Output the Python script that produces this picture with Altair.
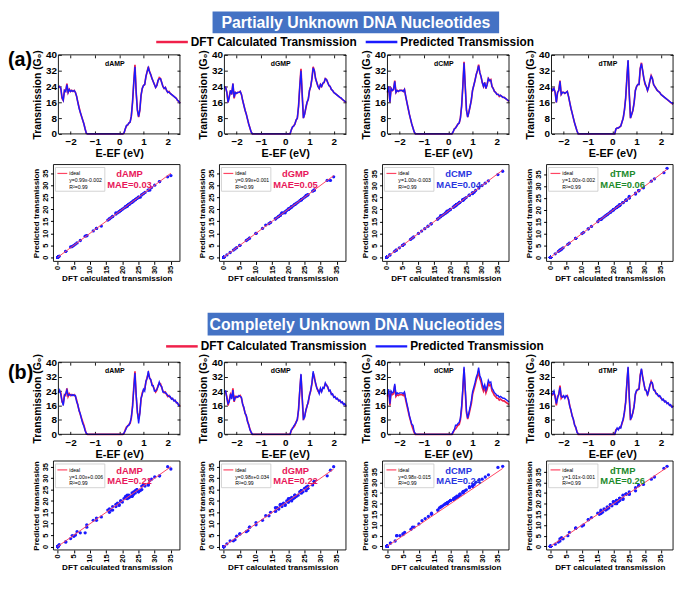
import altair as alt
import pandas as pd

# ---------------- data ----------------
E = [-2.5, -2.45, -2.4, -2.35, -2.3, -2.25, -2.2, -2.15, -2.1, -2.05,
     -2.0, -1.95, -1.9, -1.85, -1.8, -1.75, -1.7, -1.65, -1.6, -1.55,
     -1.5, -1.45, -1.4, -1.35, -1.3, -1.25, -1.2, -1.15, -1.1, -1.05,
     -1.0, -0.95, -0.9, -0.85, -0.8, -0.75, -0.7, -0.65, -0.6, -0.55,
     -0.5, -0.45, -0.4, -0.35, -0.3, -0.25, -0.2, -0.15, -0.1, -0.05,
     0.0, 0.05, 0.1, 0.15, 0.2, 0.25, 0.3, 0.35, 0.4, 0.45,
     0.5, 0.55, 0.6, 0.65, 0.7, 0.75, 0.8, 0.85, 0.9, 0.95,
     1.0, 1.05, 1.1, 1.15, 1.2, 1.25, 1.3, 1.35, 1.4, 1.45,
     1.5, 1.55, 1.6, 1.65, 1.7, 1.75, 1.8, 1.85, 1.9, 1.95,
     2.0, 2.05, 2.1, 2.15, 2.2, 2.25, 2.3, 2.35, 2.4, 2.45, 2.5]

# DFT calculated transmission (G0)
D_AMP = [23.5, 24.0, 23.0, 18.0, 17.0, 22.0, 21.5, 25.5, 21.0, 22.5,
         21.5, 22.0, 21.5, 22.0, 21.0, 19.0, 16.0, 13.5, 11.0, 9.0,
         7.0, 5.0, 2.5, 0.3, 0, 0, 0, 0, 0, 0,
         0, 0, 0, 0, 0, 0, 0, 0, 0, 0,
         0, 0, 0, 0, 0, 0, 0, 0, 0, 0,
         0, 0, 0, 0, 0.5, 2.5, 4.0, 4.5, 5.5, 6.0,
         9.0, 16.0, 26.0, 35.0, 21.0, 12.0, 8.5, 12.0, 19.5, 23.0,
         24.5, 25.0, 29.0, 31.5, 34.0, 31.5, 30.0, 28.0, 26.5, 25.0,
         23.5, 24.5, 27.0, 28.5, 28.0, 26.0, 24.0, 23.0, 23.5, 22.0,
         21.0, 21.5, 20.5, 20.0, 19.5, 19.0, 18.5, 18.0, 17.0, 16.5, 15.5]
D_GMP = [24.0, 23.5, 21.0, 16.0, 19.0, 22.0, 20.0, 25.5, 18.0, 21.0,
         20.5, 21.0, 21.0, 21.5, 20.0, 17.0, 14.5, 12.0, 10.0, 7.5,
         5.0, 3.0, 1.0, 0, 0, 0, 0, 0, 0, 0,
         0, 0, 0, 0, 0, 0, 0, 0, 0, 0,
         0, 0, 0, 0, 0, 0, 0, 0, 0, 0,
         0, 0, 0, 0, 0, 2.0, 3.5, 4.0, 5.0, 7.0,
         8.0, 14.0, 24.0, 33.0, 20.0, 8.0, 10.0, 13.0, 16.0, 17.5,
         22.0, 24.0, 28.0, 34.0, 32.0, 28.0, 26.0, 24.0, 23.0, 25.0,
         24.0, 25.5, 26.0, 28.0, 27.5, 26.0, 24.5, 24.0, 22.5, 22.0,
         21.0, 20.5, 20.0, 19.5, 19.0, 18.5, 18.0, 17.5, 17.0, 16.5, 16.0]
D_CMP = [21.0, 24.0, 16.0, 23.0, 22.0, 22.5, 27.0, 21.0, 22.0, 21.5,
         22.0, 22.0, 22.0, 21.5, 22.5, 19.0, 16.0, 13.0, 10.0, 7.5,
         5.0, 3.0, 1.0, 0, 0, 0, 0, 0, 0, 0,
         0, 0, 0, 0, 0, 0, 0, 0, 0, 0,
         0, 0, 0, 0, 0, 0, 0, 0, 0, 0,
         0, 0, 0, 0, 1.0, 2.5, 3.0, 4.0, 5.0, 5.5,
         8.0, 14.0, 24.0, 36.5, 24.0, 12.0, 8.5, 11.0, 14.0, 17.0,
         22.0, 24.5, 27.0, 30.0, 32.0, 35.0, 31.0, 29.0, 26.0, 24.0,
         26.0, 23.0, 25.0, 28.0, 27.0, 27.5, 24.0, 23.0, 21.5, 21.0,
         20.0, 20.0, 19.0, 19.5, 19.0, 18.5, 18.5, 18.0, 17.5, 17.0, 16.5]
D_TMP = [23.0, 22.0, 23.0, 21.0, 16.0, 21.0, 22.0, 27.0, 20.0, 21.0,
         21.0, 20.5, 21.0, 21.5, 19.0, 16.0, 13.0, 10.5, 8.0, 5.5,
         3.5, 1.5, 0, 0, 0, 0, 0, 0, 0, 0,
         0, 0, 0, 0, 0, 0, 0, 0, 0, 0,
         0, 0, 0, 0, 0, 0, 0, 0, 0, 0,
         0, 0, 0, 2.5, 3.0, 3.0, 3.5, 4.0, 6.0, 8.0,
         12.0, 18.0, 28.0, 37.0, 20.0, 8.0, 10.0, 12.0, 16.0, 22.0,
         24.0, 25.0, 25.0, 33.0, 36.0, 32.0, 28.0, 25.0, 24.0, 22.0,
         24.0, 27.0, 29.5, 28.0, 25.0, 24.0, 23.0, 22.0, 21.5, 21.0,
         20.0, 19.5, 19.0, 18.5, 18.0, 17.5, 17.0, 16.5, 16.0, 15.5, 15.0]

# predicted, partially unknown: the points where it departs from DFT
PA_AMP_DIFF = {3: 18.5, 7: 25.0, 17: 13.0, 56: 4.3, 63: 34.0, 66: 8.8, 74: 33.5, 83: 28.0, 91: 21.2}
PA_GMP_DIFF = {4: 18.5, 8: 18.5, 63: 32.0, 67: 13.4, 73: 33.5, 81: 25.8, 96: 18.3}
PA_CMP_DIFF = {6: 26.6, 63: 36.0, 69: 17.4, 75: 34.6, 85: 27.2, 92: 19.3}
PA_TMP_DIFF = {7: 26.6, 63: 37.4, 74: 35.6, 77: 25.6, 82: 29.2, 99: 15.8}

# predicted, completely unknown
PB_AMP = [23.0, 24.5, 22.0, 18.5, 16.0, 21.5, 22.5, 24.5, 21.5, 22.0,
          22.0, 21.5, 22.0, 21.5, 21.5, 18.0, 16.5, 13.0, 11.5, 8.5,
          6.0, 4.5, 2.0, 0.5, 0, 0, 0, 0, 0, 0,
          0, 0, 0, 0, 0, 0, 0, 0, 0, 0,
          0, 0, 0, 0, 0, 0, 0, 0, 0, 0,
          0, 0, 0, 0, 0.8, 2.0, 3.5, 4.8, 5.0, 6.5,
          9.5, 15.0, 25.0, 34.0, 22.0, 12.5, 6.0, 11.5, 20.0, 22.0,
          25.0, 24.0, 29.5, 31.0, 35.0, 31.0, 30.5, 27.0, 27.0, 24.0,
          24.0, 25.0, 26.5, 29.0, 27.0, 26.5, 23.5, 23.5, 23.0, 22.5,
          21.5, 21.0, 21.0, 19.5, 20.0, 18.5, 19.0, 17.5, 17.5, 16.0, 16.0]
PB_GMP = [23.5, 24.0, 20.0, 17.0, 18.0, 22.5, 19.5, 24.5, 18.5, 20.5,
          21.0, 20.5, 21.5, 21.0, 20.5, 16.5, 15.0, 11.5, 10.5, 7.0,
          5.5, 2.5, 1.2, 0, 0, 0, 0, 0, 0, 0,
          0, 0, 0, 0, 0, 0, 0, 0, 0, 0,
          0, 0, 0, 0, 0, 0, 0, 0, 0, 0,
          0, 0, 0, 0, 0, 2.5, 3.0, 4.5, 5.5, 6.5,
          8.5, 13.5, 24.5, 33.5, 21.0, 8.5, 9.5, 13.5, 15.5, 18.5,
          21.5, 24.5, 28.5, 35.0, 31.0, 28.5, 25.5, 24.5, 22.5, 25.5,
          23.5, 26.0, 25.5, 28.5, 27.0, 26.5, 24.0, 24.5, 22.0, 22.5,
          20.5, 21.0, 19.5, 20.0, 18.5, 19.0, 17.5, 18.0, 16.5, 17.0, 15.5]
PB_CMP = [22.0, 25.0, 17.0, 24.0, 23.0, 23.5, 28.0, 22.0, 23.0, 22.5,
          23.0, 23.0, 23.0, 22.5, 23.5, 20.0, 17.0, 14.0, 10.5, 8.0,
          5.5, 5.0, 1.5, 0.3, 0, 0, 0, 0, 0, 0,
          0, 0, 0, 0, 0, 0, 0, 0, 0, 0,
          0, 0, 0, 0, 0, 0, 0, 0, 0, 0,
          0, 0, 0, 0, 1.5, 2.5, 5.0, 5.0, 6.0, 6.5,
          9.0, 15.5, 25.5, 37.5, 25.5, 13.0, 9.0, 12.0, 15.0, 18.5,
          23.5, 26.0, 28.5, 31.5, 33.5, 37.0, 32.5, 31.0, 28.0, 25.5,
          27.5, 24.5, 26.5, 30.0, 28.5, 29.0, 25.5, 24.5, 23.0, 22.5,
          21.5, 21.5, 20.5, 21.0, 20.5, 20.0, 20.0, 19.5, 19.0, 18.5, 18.0]
PB_TMP = [22.0, 22.5, 24.0, 20.5, 17.0, 20.0, 22.5, 26.0, 21.0, 20.5,
          21.5, 20.0, 21.5, 21.0, 19.5, 15.5, 13.5, 10.0, 8.5, 5.0,
          4.0, 1.0, 0.3, 0, 0, 0, 0, 0, 0, 0,
          0, 0, 0, 0, 0, 0, 0, 0, 0, 0,
          0, 0, 0, 0, 0, 0, 0, 0, 0, 0,
          0, 0, 0, 2.0, 3.5, 2.5, 4.0, 3.5, 6.5, 8.5,
          12.5, 17.5, 28.5, 37.5, 21.0, 8.5, 9.5, 12.5, 15.5, 22.5,
          24.5, 24.5, 25.5, 32.5, 36.5, 31.5, 28.5, 24.5, 24.5, 21.5,
          24.5, 27.5, 29.0, 28.5, 24.5, 24.5, 22.5, 22.5, 21.0, 21.5,
          20.5, 19.0, 19.5, 18.0, 18.5, 17.0, 17.5, 16.0, 16.5, 15.0, 15.5]

NAMES = ["dAMP", "dGMP", "dCMP", "dTMP"]
NAME_COLORS = ["#e8185a", "#e8185a", "#2a35e0", "#1d8a2c"]
EQ_A = ["y=0.99x-0.002", "y=0.99x+0.001", "y=1.00x-0.003", "y=1.00x-0.002"]
EQ_B = ["y=1.00x+0.006", "y=0.98x+0.034", "y=0.98x-0.015", "y=1.01x-0.001"]
MAE_A = ["MAE=0.03", "MAE=0.05", "MAE=0.04", "MAE=0.06"]
MAE_B = ["MAE=0.21", "MAE=0.22", "MAE=0.24", "MAE=0.26"]
R2_TEXT = "R\u00b2=0.99"
IDEAL = "ideal"
HEADERS = ["Partially Unknown DNA Nucleotides", "Completely Unknown DNA Nucleotides"]
LEGEND_LABELS = ["DFT Calculated Transmission", "Predicted Transmission"]
TAGS = ["(a)", "(b)"]
E_TICKS = [-2, -1, 0, 1, 2]
T_TICKS = [0, 8, 16, 24, 32, 40]
S_TICKS = [0, 5, 10, 15, 20, 25, 30, 35]
# parity-plot axis limits
S_XLIM = [[[-1.3, 37.8], [-1.3, 37.8], [-1.3, 38.5], [-1.25, 38.9]],
          [[-1.3, 37.8], [-1.3, 37.8], [-1.5, 38.5], [-1.25, 38.9]]]
S_YLIM = [[[-1.7, 38.6], [-1.7, 38.6], [-1.7, 38.8], [-1.7, 39.0]],
          [[-1.5, 37.5], [-1.5, 37.5], [-1.7, 40.0], [-1.7, 40.0]]]


def with_diff(base, diff):
    out = list(base)
    for k, v in diff.items():
        out[k] = v
    return out


DFT = [D_AMP, D_GMP, D_CMP, D_TMP]
PRED_A = [with_diff(D_AMP, PA_AMP_DIFF), with_diff(D_GMP, PA_GMP_DIFF),
          with_diff(D_CMP, PA_CMP_DIFF), with_diff(D_TMP, PA_TMP_DIFF)]
PRED_B = [PB_AMP, PB_GMP, PB_CMP, PB_TMP]

# ---------------- layout / style ----------------
W, H = 677, 573
RED = "#f0204a"
BLUE = "#1a1aff"
IDEAL_RED = "#ff4563"
HEAD_BG = "#4472c4"
ARIAL = "Liberation Sans"

TRANS_X = [51, 219, 384, 550]
TRANS_W = 123
SCAT_X = [46, 214, 379, 545]
SCAT_W = 128
SECTIONS = [
    dict(box=(0, 22), box_x=(207, 497), leg_y=31, leg_x=(150, 362),
         trans=(44, 124), scat=(155, 253), tag_y=49),
    dict(box=(305, 328), box_x=(202, 502), leg_y=339, leg_x=(160, 372),
         trans=(355, 428), scat=(455, 545), tag_y=366),
]


def one(text):
    return pd.DataFrame({"t": [text]})


def txt(text, x, y, **kw):
    return alt.Chart(one(text)).mark_text(**kw).encode(
        text="t:N", x=alt.value(x), y=alt.value(y))


def frame(x0, x1, y0, y1):
    return alt.Chart(one("frame")).mark_rect(
        fillOpacity=0, stroke="black", strokeWidth=0.9).encode(
        x=alt.value(x0), x2=alt.value(x1), y=alt.value(y0), y2=alt.value(y1))


def axis_style(**kw):
    base = dict(grid=False, domain=False, tickColor="black", labelColor="black",
                titleColor="black", labelFlush=False, labelOverlap=False)
    base.update(kw)
    return alt.Axis(**base)


def tick_axis(orient, offset, values):
    # label-free axis used only for the inward ticks on the panel frame
    return axis_style(orient=orient, offset=offset, values=values, labels=False,
                      title="", tickSize=3, tickWidth=0.9)


layers = []

for s, sec in enumerate(SECTIONS):
    # ---- header box + legend
    b0, b1 = sec["box"]
    bx0, bx1 = sec["box_x"]
    layers.append(alt.Chart(one(HEADERS[s])).mark_rect(color=HEAD_BG).encode(
        x=alt.value(bx0), x2=alt.value(bx1), y=alt.value(b0), y2=alt.value(b1)))
    layers.append(txt(HEADERS[s], (bx0 + bx1) / 2, (b0 + b1) / 2 + 0.5,
                      color="white", font=ARIAL, fontSize=16, fontWeight="bold"))
    for k, col in enumerate([RED, BLUE]):
        x0 = sec["leg_x"][k]
        layers.append(alt.Chart(one(LEGEND_LABELS[k])).mark_rule(
            color=col, strokeWidth=2.5).encode(
            x=alt.value(x0), x2=alt.value(x0 + 32), y=alt.value(sec["leg_y"])))
        layers.append(txt(LEGEND_LABELS[k], x0 + 35, sec["leg_y"], align="left",
                          font=ARIAL, fontSize=12, fontWeight="bold", color="black"))
    layers.append(txt(TAGS[s], 0, sec["tag_y"], align="left", font=ARIAL,
                      fontSize=20, fontWeight="bold", color="black"))

    preds = PRED_A if s == 0 else PRED_B
    eqs = EQ_A if s == 0 else EQ_B
    maes = MAE_A if s == 0 else MAE_B

    for i in range(4):
        # ---- transmission panel
        t0, t1 = sec["trans"]
        x0 = TRANS_X[i]
        x1 = x0 + TRANS_W
        df = pd.DataFrame({"E": E, "dft": DFT[i], "pred": preds[i]})
        xs = alt.Scale(domain=[-2.5, 2.5], range=[x0, x1], nice=False, zero=False)
        ys = alt.Scale(domain=[0, 40], range=[t1, t0], nice=False, zero=False)
        xa = axis_style(orient="bottom", offset=t1 - H, values=E_TICKS,
                        title="E-EF (eV)", ticks=False, labelFont=ARIAL,
                        labelFontSize=10, labelFontWeight="bold", labelPadding=3,
                        titleFont=ARIAL, titleFontSize=11, titleFontWeight="bold",
                        titlePadding=1)
        ya = axis_style(orient="left", offset=-x0, values=T_TICKS,
                        title="Transmission (G\u2080)", ticks=False, labelFont=ARIAL,
                        labelFontSize=10, labelFontWeight="bold", labelPadding=2,
                        titleFont=ARIAL, titleFontSize=10.5, titleFontWeight="bold",
                        titlePadding=3)
        layers.append(alt.Chart(df).mark_line(color=RED, strokeWidth=1.7).encode(
            x=alt.X("E:Q", scale=xs, axis=xa), y=alt.Y("dft:Q", scale=ys, axis=ya)))
        # inward ticks: bottom edge and left edge
        layers.append(alt.Chart(df).mark_line(color=BLUE, strokeWidth=1.4).encode(
            x=alt.X("E:Q", scale=xs, axis=tick_axis("top", -t1, E_TICKS)),
            y=alt.Y("pred:Q", scale=ys, axis=tick_axis("right", x0 - W, T_TICKS))))
        # inward ticks: top edge and right edge
        layers.append(alt.Chart(df).mark_line(opacity=0).encode(
            x=alt.X("E:Q", scale=xs, axis=tick_axis("bottom", t0 - H, E_TICKS)),
            y=alt.Y("dft:Q", scale=ys, axis=tick_axis("left", -x1, T_TICKS))))
        layers.append(frame(x0, x1, t0, t1))
        layers.append(txt(NAMES[i], x0 + 57, t0 + 9, font=ARIAL, fontSize=7,
                          fontWeight="bold", color="black"))

        # ---- parity (scatter) panel
        p0, p1 = sec["scat"]
        sx0 = SCAT_X[i]
        sx1 = sx0 + SCAT_W
        sxs = alt.Scale(domain=S_XLIM[s][i], range=[sx0, sx1], nice=False, zero=False)
        sys_ = alt.Scale(domain=S_YLIM[s][i], range=[p1, p0], nice=False, zero=False)
        common = dict(values=S_TICKS, tickSize=3, labelFont=ARIAL, labelFontSize=7.5,
                      labelFontWeight="bold", labelAngle=-90, labelPadding=1,
                      titleFont=ARIAL, titleFontSize=8.2, titleFontWeight="bold",
                      titlePadding=1)
        sxa = axis_style(orient="bottom", offset=p1 - H,
                         title="DFT calculated transmission", **common)
        sya = axis_style(orient="left", offset=-sx0,
                         title="Predicted transmission", **common)
        sdf = pd.DataFrame({"dft": DFT[i], "pred": preds[i]})
        layers.append(alt.Chart(sdf).mark_circle(size=11, color=BLUE, opacity=1).encode(
            x=alt.X("dft:Q", scale=sxs, axis=sxa), y=alt.Y("pred:Q", scale=sys_, axis=sya)))
        layers.append(alt.Chart(sdf).mark_rule(color=IDEAL_RED, strokeWidth=1).encode(
            x=alt.X("min(dft):Q", scale=sxs, axis=None), x2="max(dft):Q",
            y=alt.Y("min(dft):Q", scale=sys_, axis=None), y2="max(dft):Q"))
        layers.append(frame(sx0, sx1, p0, p1))
        layers.append(alt.Chart(one(IDEAL)).mark_rect(
            fill="white", stroke="#c8c8c8", strokeWidth=0.8).encode(
            x=alt.value(sx0 + 2), x2=alt.value(sx0 + 52),
            y=alt.value(p0 + 3), y2=alt.value(p0 + 27)))
        layers.append(alt.Chart(one(IDEAL)).mark_rule(color=IDEAL_RED, strokeWidth=1.2).encode(
            x=alt.value(sx0 + 4), x2=alt.value(sx0 + 14), y=alt.value(p0 + 9)))
        small = dict(align="left", font=ARIAL, fontSize=5.2, color="black")
        layers.append(txt(IDEAL, sx0 + 16, p0 + 9, **small))
        layers.append(txt(eqs[i], sx0 + 16, p0 + 16, **small))
        layers.append(txt(R2_TEXT, sx0 + 16, p0 + 22.5, **small))
        layers.append(txt(NAMES[i], sx0 + 77, p0 + 10, font=ARIAL, fontSize=9.5,
                          fontWeight="bold", color=NAME_COLORS[i]))
        layers.append(txt(maes[i], sx0 + 77, p0 + 20.5, font=ARIAL, fontSize=9.5,
                          fontWeight="bold", color=NAME_COLORS[i]))

chart = alt.layer(*layers).resolve_scale(
    x="independent", y="independent").resolve_axis(
    x="independent", y="independent").properties(
    width=W, height=H, padding=0, background="white",
    autosize=alt.AutoSizeParams(type="none")).configure_view(stroke="transparent")

chart.save("out.html", embed_options={"renderer": "svg", "actions": False})
